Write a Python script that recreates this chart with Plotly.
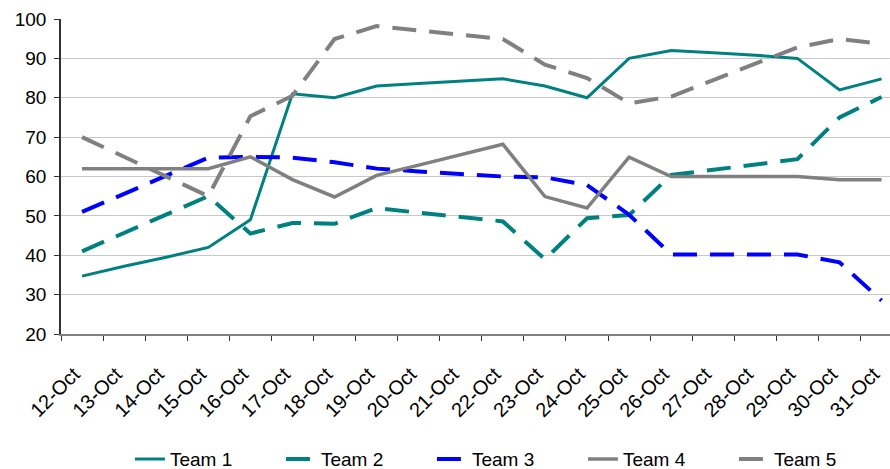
import plotly.graph_objects as go

dates = ["12-Oct", "13-Oct", "14-Oct", "15-Oct", "16-Oct", "17-Oct", "18-Oct", "19-Oct", "20-Oct", "21-Oct",
         "22-Oct", "23-Oct", "24-Oct", "25-Oct", "26-Oct", "27-Oct", "28-Oct", "29-Oct", "30-Oct", "31-Oct"]

team1 = [34.7, 37.2, 39.5, 42, 49, 81, 80, 83, 83.6, 84.2, 84.8, 83, 80, 90, 92, 91.4, 90.8, 90, 82, 84.8]
team2 = [41, 45.7, 50.3, 55, 45.5, 48.2, 48, 52, 50.8, 49.7, 48.6, 39, 49.4, 50.2, 60.4, 61.7, 63, 64.4, 75, 80.2]
team3 = [51, 55.6, 60.2, 64.8, 65, 64.8, 63.6, 62, 61.3, 60.6, 60, 59.8, 57.8, 50.3, 40.2, 40.2, 40.2, 40.2, 38.2, 28.5]
team4 = [62, 62, 62, 62, 65, 59.2, 54.8, 60.3, 62.9, 65.6, 68.2, 54.9, 52, 64.9, 60, 60, 60, 60, 59.2, 59.2]
team5 = [70, 65, 60, 55, 75.3, 80.5, 94.9, 98.2, 97.1, 96, 94.9, 88.4, 85, 78.6, 80.3, 84.5, 88.7, 92.8, 94.9, 93.7]

names = ["Team 1", "Team 2", "Team 3", "Team 4", "Team 5"]
series = [team1, team2, team3, team4, team5]
colors = ["#008080", "#008080", "#0000FF", "#808080", "#808080"]
dashes = ["solid", "24px,13px", "24px,13px", "solid", "24px,13px"]
widths = [3, 4, 4, 3.5, 4]

font_family = "Liberation Sans, Arial, sans-serif"

fig = go.Figure()
for n, s, c, d, w in zip(names, series, colors, dashes, widths):
    fig.add_trace(go.Scatter(x=dates, y=s, mode="lines", name=n,
                             line=dict(color=c, dash=d, width=w)))

fig.update_layout(
    width=890, height=469,
    margin=dict(l=61, r=0, t=19, b=135),
    paper_bgcolor="white", plot_bgcolor="white",
    font=dict(family=font_family, size=18, color="#000000"),
    showlegend=True,
    legend=dict(orientation="h", x=0.146, xanchor="left", xref="container",
                y=0.021, yanchor="middle", yref="container",
                font=dict(size=19), tracegroupgap=0,
                entrywidth=106, entrywidthmode="pixels",
                bgcolor="rgba(0,0,0,0)"),
)
fig.update_xaxes(type="category", range=[-0.5, 19.2], tickangle=-45,
                 showgrid=False, showline=True, linecolor="#808080", linewidth=1.5,
                 ticks="outside", ticklen=5, tickcolor="#333333", tickson="boundaries",
                 ticklabelstandoff=19, ticklabelshift=-8,
                 tickfont=dict(size=20, family=font_family))
fig.update_yaxes(range=[20, 100], dtick=10, showgrid=True, gridcolor="#C8C8C8", gridwidth=1,
                 showline=True, linecolor="#333333", linewidth=1.5,
                 ticks="outside", ticklen=5, tickcolor="#333333", ticklabelstandoff=4,
                 zeroline=False, tickfont=dict(size=19, family=font_family))

fig.write_html("out.html")
